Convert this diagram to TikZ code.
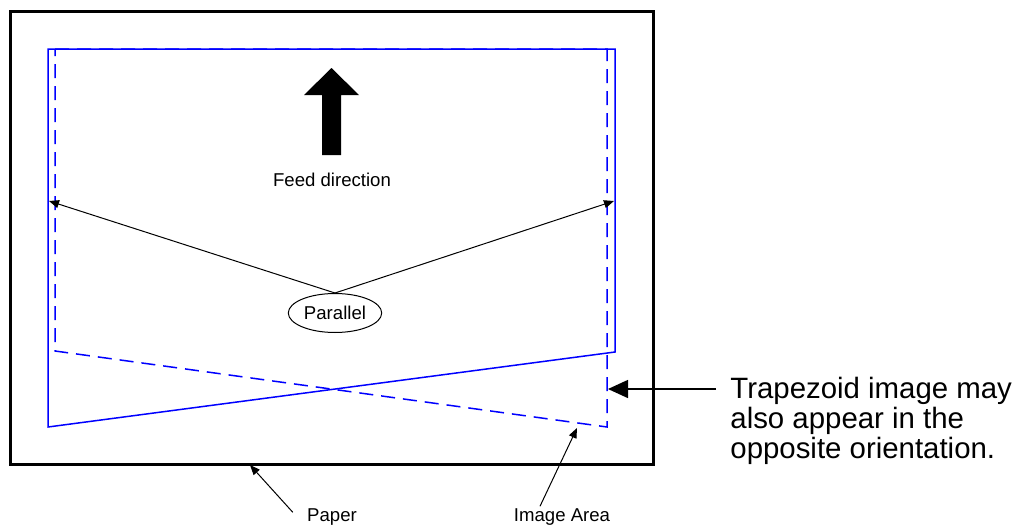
\documentclass[tikz,border=0pt]{standalone}
\usepackage{fontspec}
\setmainfont{Liberation Sans}
\usetikzlibrary{arrows.meta,positioning,shapes.geometric}
\definecolor{imgblue}{RGB}{0,0,255}

\begin{document}
\begin{tikzpicture}[
    x=0.5pt,y=-0.5pt,
    paper/.style={draw,line width=1.5pt},
    area/.style={draw=imgblue,line width=0.75pt},
    areadash/.style={area,dash pattern=on 7pt off 4pt},
    smalltext/.style={font=\fontsize{9.3}{11}\selectfont,inner sep=1pt},
    notetext/.style={font=\fontsize{14.7}{15}\selectfont,align=left,inner sep=1pt},
    arrow/.style={-{Triangle[length=5pt,width=4pt]},line width=0.5pt},
    bigarrow/.style={-{Triangle[length=10pt,width=9pt]},line width=0.75pt}
]
    \useasboundingbox (0,0) rectangle (1024,525);
    % paper and the two image areas
    \draw[paper] (10,11) rectangle (653,464);
    \draw[area] (48,49) -- (615,49) -- (615,352) -- (48,427) -- cycle;
    \draw[areadash] (55,49) -- (607,49) -- (607,427) -- (55,351) -- cycle;
    % feed direction
    \fill (322,155) -- (322,95) -- (304,95) -- (331.5,68) -- (359,95) -- (341,95) -- (341,155) -- cycle;
    \node[smalltext] (feed) at (332,180) {Feed direction};
    % parallel sides
    \node[smalltext,ellipse,draw,line width=0.5pt,minimum width=42.5pt,minimum height=19.5pt] (par) at (335,313) {Parallel};
    \coordinate (leftside) at (49,201);
    \coordinate (rightside) at (614,201);
    \draw[arrow] (par.north) -- (leftside);
    \draw[arrow] (par.north) -- (rightside);
    % labels below the paper
    \node[smalltext] (paperlbl) at (332,517) {Paper};
    \node[smalltext] (arealbl) at (562,517) {Image Area};
    \coordinate (paperedge) at (250,465);
    \coordinate (areaedge) at (577,428);
    \draw[arrow] ([xshift=-6pt,yshift=-3pt]paperlbl.north west) -- (paperedge);
    \draw[arrow] ([xshift=-11pt]arealbl.north) -- (areaedge);
    % note
    \node[notetext,anchor=west] (note) at (728,421) {Trapezoid image may\\also appear in the\\opposite orientation.};
    \coordinate (notestart) at (716,389);
    \coordinate (dashside) at (608,389);
    \draw[bigarrow] (notestart) -- (dashside);
\end{tikzpicture}
\end{document}
